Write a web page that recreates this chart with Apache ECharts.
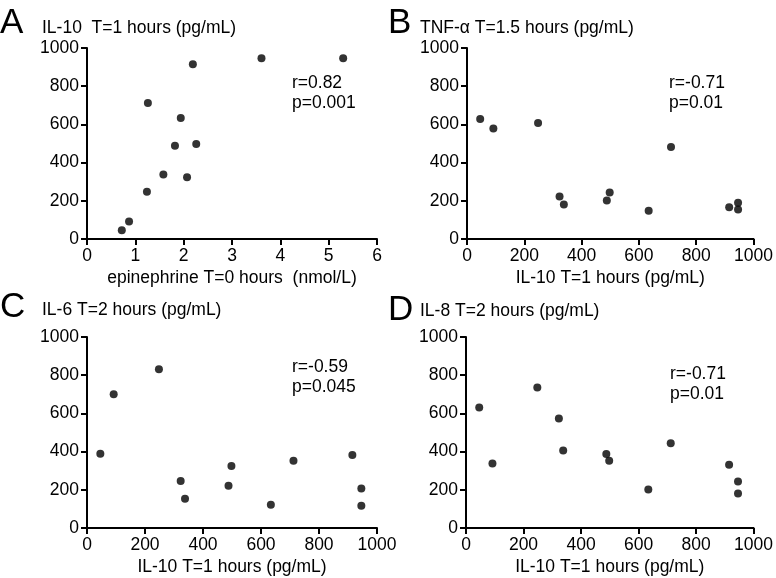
<!DOCTYPE html>
<html>
<head>
<meta charset="utf-8">
<script src="https://cdn.jsdelivr.net/npm/echarts@6/dist/echarts.min.js"></script>
<style>html,body{margin:0;padding:0;background:#fff}#c{width:776px;height:578px}</style>
</head>
<body>
<div id="c"></div>
<script>
// Patients ordered by IL-10 (T=1 h)
const il10 = [46, 92, 248, 323, 338, 488, 498, 634, 712, 915, 946, 946];
const epinephrine = [0.72, 0.87, 1.24, 2.07, 1.58, 1.82, 2.26, 1.94, 1.26, 2.19, 3.61, 5.30];
const tnfAlpha = [628, 578, 607, 222, 180, 202, 243, 148, 482, 166, 190, 155];
const il6 = [389, 700, 831, 246, 153, 221, 324, 122, 352, 382, 207, 117];
const il8 = [631, 338, 735, 573, 406, 387, 352, 202, 444, 331, 244, 181];

const panelLetters = ['A', 'B', 'C', 'D'];
const panelTitles = ['IL-10  T=1 hours (pg/mL)', 'TNF-\u03b1 T=1.5 hours (pg/mL)', 'IL-6 T=2 hours (pg/mL)', 'IL-8 T=2 hours (pg/mL)'];
const xNames = ['epinephrine T=0 hours  (nmol/L)', 'IL-10 T=1 hours (pg/mL)', 'IL-10 T=1 hours (pg/mL)', 'IL-10 T=1 hours (pg/mL)'];
const statsR = ['r=0.82', 'r=-0.71', 'r=-0.59', 'r=-0.71'];
const statsP = ['p=0.001', 'p=0.01', 'p=0.045', 'p=0.01'];
const yTicks = [0, 200, 400, 600, 800, 1000];
const xTicksA = [0, 1, 2, 3, 4, 5, 6];
const xTicksIL10 = [0, 200, 400, 600, 800, 1000];

const FONT = 'Liberation Sans, Arial, Helvetica, sans-serif';
const grids = [
  {left: 87, top: 48, width: 290, height: 191},
  {left: 467, top: 48, width: 290, height: 191},
  {left: 87, top: 337, width: 290, height: 191},
  {left: 466, top: 337, width: 290, height: 191}
];
const letterPos = [[0, 6], [388, 6], [0, 290], [388, 293]];
const titlePos = [[42, 19], [420, 19], [42, 301], [420, 302]];
const statPos = [[292, 73], [669, 73], [292, 357], [670, 364]];

const xData = [epinephrine, il10, il10, il10];
const yData = [il10, tnfAlpha, il6, il8];

function axisCommon(){
  return {
    type: 'value',
    axisLine: {show: true, onZero: false, lineStyle: {color: '#000', width: 2}},
    axisTick: {show: true, length: 6, lineStyle: {color: '#000', width: 2}},
    axisLabel: {color: '#000', fontSize: 17.5, fontFamily: FONT, margin: 8, formatter: v => String(v)},
    splitLine: {show: false}
  };
}

const titles = [];
panelLetters.forEach((l, i) => {
  titles.push({text: l, left: letterPos[i][0], top: letterPos[i][1], padding: 0,
    textStyle: {fontSize: 35, fontWeight: 'normal', fontFamily: FONT, color: '#000'}});
  titles.push({text: panelTitles[i], left: titlePos[i][0], top: titlePos[i][1], padding: 0,
    textStyle: {fontSize: 17.5, fontWeight: 'normal', fontFamily: FONT, color: '#000'}});
  titles.push({text: statsR[i] + '\n' + statsP[i], left: statPos[i][0], top: statPos[i][1], padding: 0,
    textStyle: {fontSize: 17.5, fontWeight: 'normal', fontFamily: FONT, color: '#000', lineHeight: 20}});
});

const xAxes = [], yAxes = [], series = [];
for (let i = 0; i < 4; i++) {
  const xa = axisCommon();
  const ticks = i === 0 ? xTicksA : xTicksIL10;
  Object.assign(xa, {gridIndex: i, min: ticks[0], max: ticks[ticks.length - 1], interval: ticks[1] - ticks[0],
    name: xNames[i], nameLocation: 'middle', nameGap: 30,
    nameTextStyle: {color: '#000', fontSize: 17.5, fontFamily: FONT}});
  xAxes.push(xa);
  const ya = axisCommon();
  Object.assign(ya, {gridIndex: i, min: yTicks[0], max: yTicks[yTicks.length - 1], interval: yTicks[1] - yTicks[0]});
  yAxes.push(ya);
  series.push({type: 'scatter', xAxisIndex: i, yAxisIndex: i, symbol: 'circle', symbolSize: 8,
    itemStyle: {color: '#000'}, silent: true,
    data: xData[i].map((x, k) => [x, yData[i][k]])});
}

const chart = echarts.init(document.getElementById('c'), null, {renderer: 'canvas'});
chart.setOption({
  animation: false,
  backgroundColor: '#fff',
  title: titles,
  grid: grids,
  xAxis: xAxes,
  yAxis: yAxes,
  series: series
});
</script>
</body>
</html>
